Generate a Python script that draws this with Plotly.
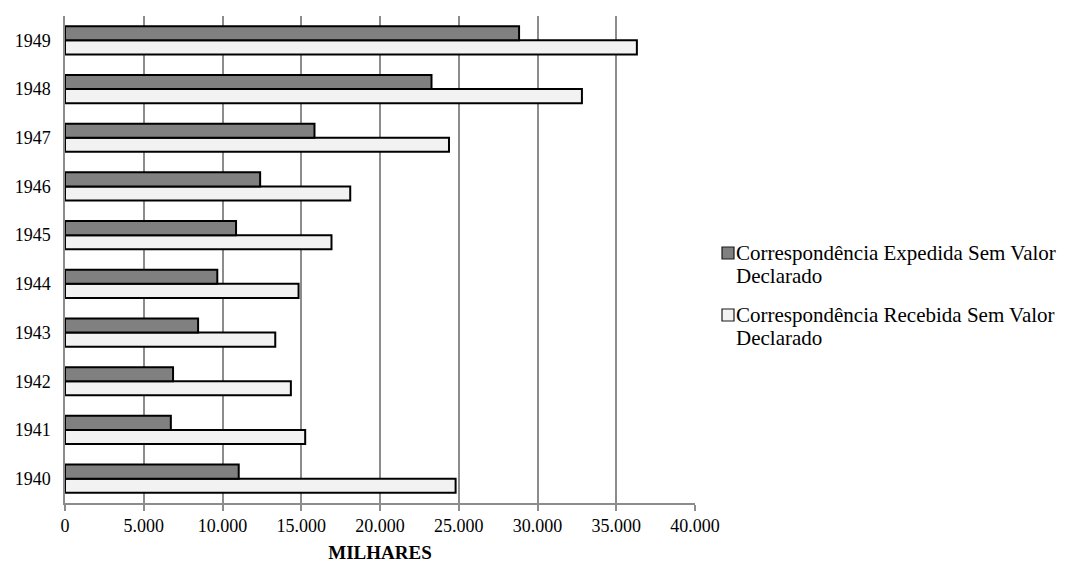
import plotly.graph_objects as go

# Annual mail volume (thousands of items), 1940-1949
years = ["1940", "1941", "1942", "1943", "1944", "1945", "1946", "1947", "1948", "1949"]
expedida = [11030, 6720, 6860, 8450, 9670, 10860, 12390, 15840, 23270, 28830]
recebida = [24800, 15250, 14340, 13350, 14830, 16920, 18110, 24380, 32820, 36310]

# Legend labels, one list of lines per series
label_expedida = ["Correspondência Expedida Sem Valor", "Declarado"]
label_recebida = ["Correspondência Recebida Sem Valor", "Declarado"]

SERIF = "Liberation Serif"
GRID = "#8c8c8c"
DARK = "#808080"
LIGHT = "#f2f2f2"

# Plot area in pixels (used to place the side legend in paper units)
W, H = 1067, 563
L, R, T, B = 65, 372, 16, 60
PW, PH = W - L - R, H - T - B


def px_x(px):
    return (px - L) / PW


def px_y(py):
    return (H - B - py) / PH


fig = go.Figure()
# The lighter series is added first so it sits below the darker one in each pair
fig.add_trace(go.Bar(
    y=years, x=recebida, orientation="h", name=" ".join(label_recebida),
    marker=dict(color=LIGHT, line=dict(color="#000000", width=2)),
    showlegend=False,
))
fig.add_trace(go.Bar(
    y=years, x=expedida, orientation="h", name=" ".join(label_expedida),
    marker=dict(color=DARK, line=dict(color="#000000", width=2)),
    showlegend=False,
))

# Side legend: swatch + two text lines per series
legend_entries = [(DARK, label_expedida, 253), (LIGHT, label_recebida, 315)]
for color, lines, yc in legend_entries:
    fig.add_shape(
        type="rect", xref="paper", yref="paper",
        x0=px_x(722), x1=px_x(734), y0=px_y(yc + 6), y1=px_y(yc - 6),
        fillcolor=color, line=dict(color="#1a1a1a", width=1.2),
    )
    for i, line in enumerate(lines):
        fig.add_annotation(
            xref="paper", yref="paper", x=px_x(734), y=px_y(yc + i * 23),
            xanchor="left", yanchor="middle", showarrow=False,
            text=line, font=dict(family=SERIF, size=21, color="#000000"),
        )

fig.update_layout(
    width=W, height=H,
    margin=dict(l=L, r=R, t=T, b=B),
    paper_bgcolor="white", plot_bgcolor="white",
    barmode="group", bargap=0.42, bargroupgap=0,
    separators=",.",
    font=dict(family=SERIF, size=18, color="#000000"),
    showlegend=False,
)

fig.update_xaxes(
    range=[0, 40000], dtick=5000, tickformat=",d",
    showgrid=True, gridcolor=GRID, gridwidth=1.5,
    showline=True, linecolor=GRID, linewidth=1.5,
    ticks="outside", ticklen=6, tickcolor=GRID, tickwidth=1.5,
    zeroline=False, automargin=False,
    tickfont=dict(family=SERIF, size=18),
    title=dict(text="<b>MILHARES</b>", font=dict(family=SERIF, size=19), standoff=10),
)
fig.update_yaxes(
    type="category", categoryorder="array", categoryarray=years,
    showgrid=False, showline=True, linecolor=GRID, linewidth=1.5,
    ticks="", ticklabelstandoff=9, automargin=False,
    tickfont=dict(family=SERIF, size=18),
)

fig.write_html("out.html")
